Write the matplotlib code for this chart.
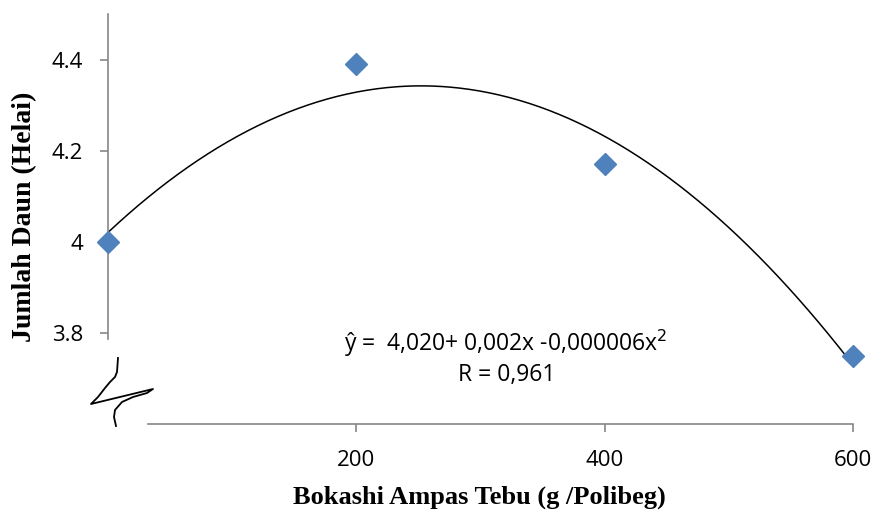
import numpy as np
import matplotlib
matplotlib.use("Agg")
import matplotlib.pyplot as plt
from matplotlib.lines import Line2D

# Data
dosis = [0, 200, 400, 600]
jumlah_daun = [4.00, 4.39, 4.17, 3.75]
x_ticks = [200, 400, 600]
y_ticks = [3.8, 4.0, 4.2, 4.4]
y_ticklabels = ["3.8", "4", "4.2", "4.4"]
eq_text = "ŷ =  4,020+ 0,002x -0,000006x$^{2}$"
r_text = "R = 0,961"

W, H = 875, 511
fig = plt.figure(figsize=(W / 100, H / 100), dpi=100)
ax = fig.add_axes([108 / W, 1 - 424 / H, (853 - 108) / W, (424 - 14) / H])
ax.set_xlim(0, 600)
ax.set_ylim(3.6, 4.5)

grey = "#868686"
tick_font = dict(family=["Open Sans", "DejaVu Sans"], size=16)

# Trendline (polynomial order 2, least squares)
coef = np.polyfit(dosis, jumlah_daun, 2)
xs = np.linspace(min(dosis), max(dosis), 300)
ax.plot(xs, np.polyval(coef, xs), color="black", lw=1.1, zorder=2, clip_on=False)

ax.plot(dosis, jumlah_daun, linestyle="none", marker="D", markersize=11,
        color="#4F81BD", markeredgecolor="#4F81BD", zorder=3, clip_on=False)

for s in ["top", "right"]:
    ax.spines[s].set_visible(False)
ax.spines["left"].set_bounds(3.787, 4.5)
ax.spines["bottom"].set_bounds(32, 600)
for s in ["left", "bottom"]:
    ax.spines[s].set_color(grey)
    ax.spines[s].set_linewidth(1.2)

ax.set_xticks(x_ticks)
ax.set_xticklabels([str(v) for v in x_ticks], fontdict=tick_font)
ax.set_yticks(y_ticks)
ax.set_yticklabels(y_ticklabels, fontdict=tick_font)
ax.tick_params(axis="both", direction="out", length=6, width=1.2, color=grey)
ax.tick_params(axis="x", pad=13)
ax.tick_params(axis="y", pad=12)

fig.text(479 / W, 1 - 497 / H, "Bokashi Ampas Tebu (g /Polibeg)",
         ha="center", va="center", family="Liberation Serif",
         fontweight="bold", fontsize=19)
fig.text(25 / W, 1 - 217 / H, "Jumlah Daun (Helai)", rotation=90,
         ha="center", va="center", family="Liberation Serif",
         fontweight="bold", fontsize=20)

fig.text(506 / W, 1 - 343 / H, eq_text, ha="center", va="center",
         family=["Open Sans", "DejaVu Sans"], fontsize=16.5)
fig.text(507 / W, 1 - 375 / H, r_text, ha="center", va="center",
         family=["Open Sans", "DejaVu Sans"], fontsize=16.5)

# Axis break squiggle (decoration, figure pixel coords)
brk = [(118, 358), (117, 372), (115, 377), (110, 382), (105, 388), (98, 397),
       (91, 404), (153, 389), (147, 393), (133, 397), (122, 402), (115, 410),
       (114, 417), (116, 426)]
fig.add_artist(Line2D([p[0] / W for p in brk], [1 - p[1] / H for p in brk],
                      color="black", lw=1.3, transform=fig.transFigure))

fig.savefig("out.png", dpi=100)
